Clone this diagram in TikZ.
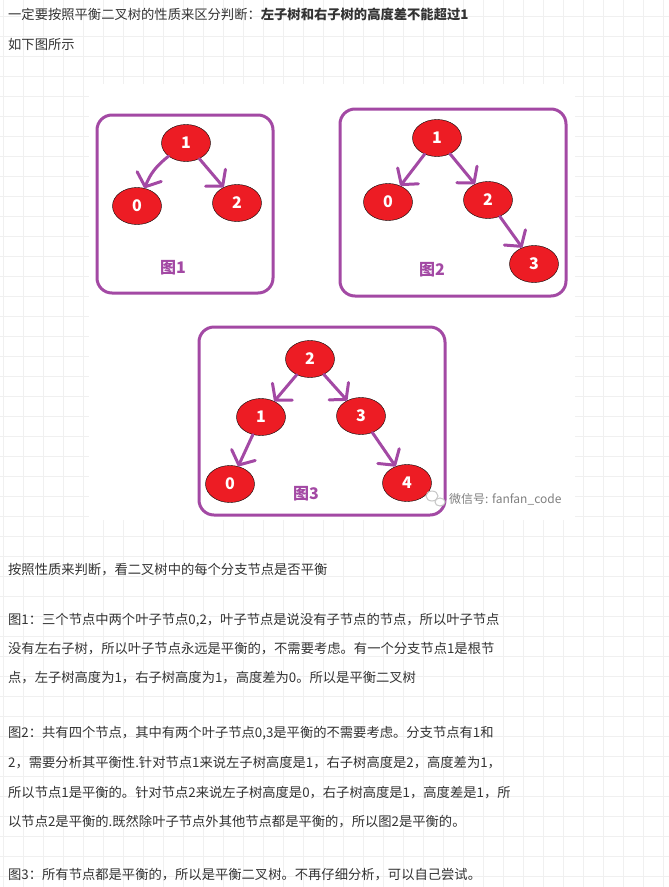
\documentclass[tikz,border=0pt]{standalone}
\usepackage{fontspec}
\setmainfont{Noto Sans CJK SC}
\usetikzlibrary{shapes,arrows.meta,positioning}
\definecolor{paintred}{HTML}{ED1C24}
\definecolor{paintpurple}{HTML}{A349A4}
\definecolor{gridgray}{HTML}{F0F0F0}
\definecolor{bodytext}{HTML}{333333}

\begin{document}
\begin{tikzpicture}
        [
            x=1pt, y=-1pt,
            vert/.style={ellipse, draw=black, fill=paintred, minimum width=49pt, minimum height=37pt, inner sep=0pt, text=white, font=\fontsize{16}{16}\selectfont\bfseries},
            frame/.style={draw=paintpurple, line width=3pt, rounded corners=15pt},
            link/.style={draw=paintpurple, line width=3pt, line cap=round, -{Straight Barb[length=11pt, width=26pt, round]}},
            caption/.style={text=paintpurple, font=\fontsize{16}{16}\selectfont\bfseries},
            txt/.style={anchor=west, inner sep=0pt, text=bodytext, font=\fontsize{13.3}{14}\selectfont},
        ]
        \useasboundingbox (0,0) rectangle (669,887);
        \fill[white] (0,0) rectangle (669,887);
        % grid of the page
        \foreach \x in {3,23,...,663}
            \draw[gridgray] (\x,0) -- (\x,887);
        \foreach \y in {16,36,...,876}
            \draw[gridgray] (0,\y) -- (669,\y);
        \fill[white] (89,84) rectangle (575,520);

        \node[txt] (t1) at (8,14) {一定要按照平衡二叉树的性质来区分判断：\textbf{左子树和右子树的高度差不能超过1}};
        \node[txt] (t2) at (8,44) {如下图所示};

        % figure 1
        \draw[frame] (97,115) rectangle (273,293);
        \node[vert] (a1) at (186,143) {1};
        \node[vert] (a0) at (137,206) {0};
        \node[vert] (a2) at (237,203) {2};
        \node[caption] (c1) at (173,268) {图1};
        \draw[link] (a1) to[bend right=15] (a0);
        \draw[link] (a1) -- (a2);

        % figure 2
        \draw[frame] (340,109) rectangle (566,296);
        \node[vert] (b1) at (437,138) {1};
        \node[vert] (b0) at (388,202) {0};
        \node[vert] (b2) at (488,200) {2};
        \node[vert] (b3) at (534,264) {3};
        \node[caption] (c2) at (432,270) {图2};
        \draw[link] (b1) -- (b0);
        \draw[link] (b1) -- (b2);
        \draw[link] (b2) -- (b3);

        % figure 3
        \draw[frame] (199,327) rectangle (445,515);
        \node[vert] (d2) at (310,359) {2};
        \node[vert] (d1) at (261,417) {1};
        \node[vert] (d3) at (361,416) {3};
        \node[vert] (d0) at (230,484) {0};
        \node[vert] (d4) at (407,483) {4};
        \node[caption] (c3) at (306,494) {图3};
        \draw[link] (d2) -- (d1);
        \draw[link] (d2) -- (d3);
        \draw[link] (d1) -- (d0);
        \draw[link] (d3) -- (d4);

        % watermark
        \draw[gray!45, line width=1pt] (432,496) ellipse (6 and 5);
        \draw[gray!45, line width=1pt, fill=white] (440,502) ellipse (5 and 4);
        \node[anchor=west, inner sep=0pt, text=gray, font=\fontsize{12}{12}\selectfont] (wm) at (449,499) {微信号: fanfan\_code};

        \node[txt] (t3) at (8,570) {按照性质来判断，看二叉树中的每个分支节点是否平衡};
        \node[txt] (t4) at (8,620) {图1：三个节点中两个叶子节点0,2，叶子节点是说没有子节点的节点，所以叶子节点};
        \node[txt] (t5) at (8,649) {没有左右子树，所以叶子节点永远是平衡的，不需要考虑。有一个分支节点1是根节};
        \node[txt] (t6) at (8,678) {点，左子树高度为1，右子树高度为1，高度差为0。所以是平衡二叉树};
        \node[txt] (t7) at (8,733) {图2：共有四个节点，其中有两个叶子节点0,3是平衡的不需要考虑。分支节点有1和};
        \node[txt] (t8) at (8,763) {2，需要分析其平衡性.针对节点1来说左子树高度是1，右子树高度是2，高度差为1，};
        \node[txt] (t9) at (8,793) {所以节点1是平衡的。针对节点2来说左子树高度是0，右子树高度是1，高度差是1，所};
        \node[txt] (t10) at (8,822) {以节点2是平衡的.既然除叶子节点外其他节点都是平衡的，所以图2是平衡的。};
        \node[txt] (t11) at (8,875) {图3：所有节点都是平衡的，所以是平衡二叉树。不再仔细分析，可以自己尝试。};
      \end{tikzpicture}
\end{document}
